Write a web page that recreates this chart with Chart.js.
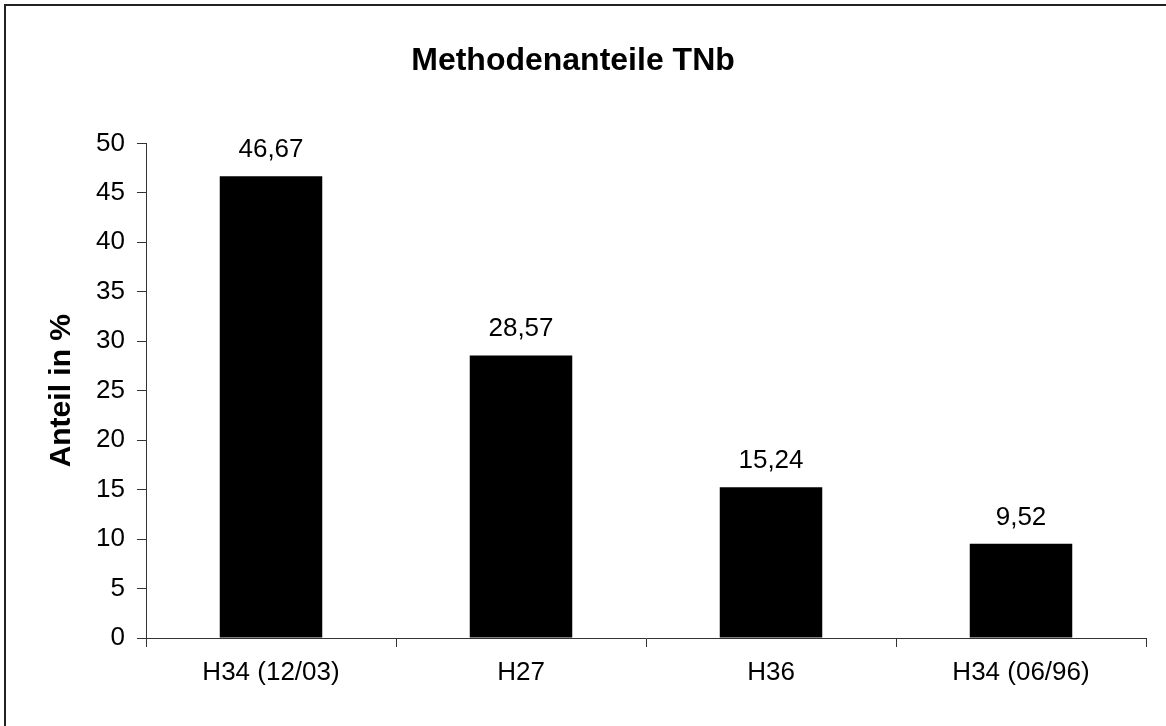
<!DOCTYPE html>
<html>
<head>
<meta charset="utf-8">
<script src="https://cdn.jsdelivr.net/npm/chart.js@4"></script>
<style>
    body { margin: 0; background: #fff; }
    canvas { display: block; }
</style>
</head>
<body>
<canvas id="bar-chart" width="1166" height="726"></canvas>
<script>
const categories = ['H34 (12/03)', 'H27', 'H36', 'H34 (06/96)'];
const shares = [46.67, 28.57, 15.24, 9.52];
const yTicks = [0, 5, 10, 15, 20, 25, 30, 35, 40, 45, 50];

const FONT = '"Liberation Sans", Arial, sans-serif';
const AXIS = '#333';

// outer frame, runs off the right and bottom edge like the source
const framePlugin = {
    id: 'frame',
    beforeDraw(chart) {
        const ctx = chart.ctx;
        ctx.save();
        ctx.fillStyle = '#fff';
        ctx.fillRect(0, 0, chart.width, chart.height);
        ctx.strokeStyle = '#222';
        ctx.lineWidth = 2;
        ctx.strokeRect(5, 5, 1300, 900);
        ctx.restore();
    }
};

// value labels above bars, German decimal comma
const valueLabels = {
    id: 'valueLabels',
    afterDatasetsDraw(chart) {
        const ctx = chart.ctx;
        const meta = chart.getDatasetMeta(0);
        ctx.save();
        ctx.font = '26px ' + FONT;
        ctx.fillStyle = '#000';
        ctx.textAlign = 'center';
        ctx.textBaseline = 'alphabetic';
        meta.data.forEach((bar, i) => {
            const text = shares[i].toFixed(2).replace('.', ',');
            ctx.fillText(text, bar.x, bar.y - 19);
        });
        ctx.restore();
    }
};

new Chart(document.getElementById('bar-chart'), {
    type: 'bar',
    data: {
        labels: categories,
        datasets: [{
            data: shares,
            backgroundColor: '#000',
            borderWidth: 0,
            barPercentage: 0.41,
            categoryPercentage: 1,
        }]
    },
    options: {
        responsive: false,
        animation: false,
        devicePixelRatio: 1,
        layout: {
            padding: { left: 0, right: 20, top: 0, bottom: 0 }
        },
        plugins: {
            legend: { display: false },
            tooltip: { enabled: false },
            title: {
                display: true,
                text: 'Methodenanteile TNb',
                color: '#000',
                font: { family: FONT, size: 32, weight: 'bold' },
                padding: { top: 42, bottom: 63 }
            }
        },
        scales: {
            x: {
                grid: {
                    drawOnChartArea: false,
                    drawTicks: true,
                    tickLength: 9,
                    color: AXIS,
                },
                border: { display: true, color: AXIS, width: 1 },
                ticks: {
                    color: '#000',
                    font: { family: FONT, size: 26 },
                    padding: 10,
                    maxRotation: 0,
                },
                afterFit: (scale) => { scale.height = 88; }
            },
            y: {
                min: yTicks[0],
                max: yTicks[yTicks.length - 1],
                afterBuildTicks: (scale) => {
                    scale.ticks = yTicks.map(v => ({ value: v }));
                },
                grid: {
                    drawOnChartArea: false,
                    drawTicks: true,
                    tickLength: 9,
                    color: AXIS,
                },
                border: { display: true, color: AXIS, width: 1 },
                ticks: {
                    color: '#000',
                    font: { family: FONT, size: 26 },
                    padding: 12,
                },
                title: {
                    display: true,
                    text: 'Anteil in %',
                    color: '#000',
                    font: { family: FONT, size: 30, weight: 'bold' },
                    padding: { top: 44, bottom: 0 }
                },
                afterFit: (scale) => { scale.width = 146; }
            }
        }
    },
    plugins: [framePlugin, valueLabels]
});
</script>
</body>
</html>
